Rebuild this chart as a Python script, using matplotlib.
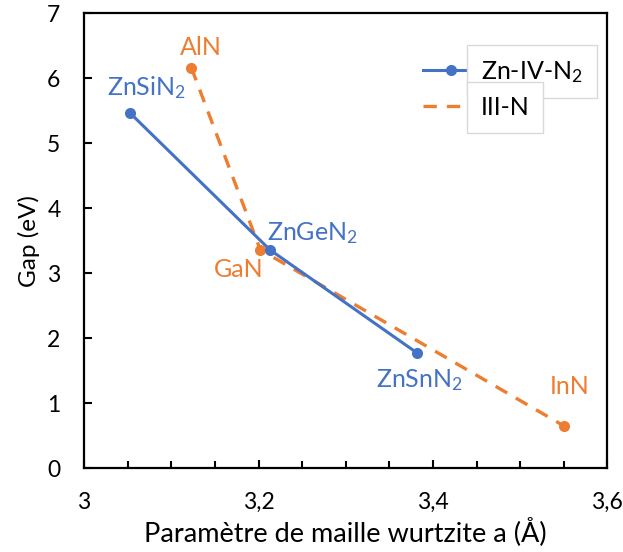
import matplotlib
matplotlib.use("Agg")
import matplotlib.pyplot as plt
from matplotlib.lines import Line2D
from matplotlib.ticker import MultipleLocator, FuncFormatter

plt.rcParams['font.family'] = ['Lato', 'DejaVu Sans']
plt.rcParams['mathtext.fontset'] = 'custom'
plt.rcParams['mathtext.rm'] = 'Lato'
plt.rcParams['mathtext.it'] = 'Lato:italic'

# Data
znivn_names = ["ZnSiN$_2$", "ZnGeN$_2$", "ZnSnN$_2$"]
znivn_a = [3.053, 3.213, 3.382]
znivn_gap = [5.46, 3.36, 1.77]

iiin_names = ["AlN", "GaN", "InN"]
iiin_a = [3.123, 3.202, 3.550]
iiin_gap = [6.16, 3.36, 0.65]

series_labels = ["Zn-IV-N$_2$", "III-N"]

blue = "#4472C4"
orange = "#ED7D31"

fig = plt.figure(figsize=(6.23, 5.52), dpi=100)
ax = fig.add_axes([0.135, 0.152, 0.84, 0.824])

ax.plot(iiin_a, iiin_gap, color=orange, lw=2.4, ls=(0, (4, 3)),
        marker='o', ms=8, markeredgewidth=0, zorder=3)
ax.plot(znivn_a, znivn_gap, color=blue, lw=2.2, ls='-',
        marker='o', ms=8, markeredgewidth=0, zorder=4)

# point labels
lab_fs = 18
ax.text(3.072, 5.86, znivn_names[0], color=blue, fontsize=lab_fs, ha='center', va='center')
ax.text(3.262, 3.62, znivn_names[1], color=blue, fontsize=lab_fs, ha='center', va='center')
ax.text(3.385, 1.35, znivn_names[2], color=blue, fontsize=lab_fs, ha='center', va='center')
ax.text(3.134, 6.48, iiin_names[0], color=orange, fontsize=lab_fs, ha='center', va='center')
ax.text(3.177, 3.05, iiin_names[1], color=orange, fontsize=lab_fs, ha='center', va='center')
ax.text(3.557, 1.25, iiin_names[2], color=orange, fontsize=lab_fs, ha='center', va='center')

ax.set_xlim(3.0, 3.6)
ax.set_ylim(0, 7)
ax.xaxis.set_major_locator(MultipleLocator(0.2))
ax.xaxis.set_minor_locator(MultipleLocator(0.05))
ax.yaxis.set_major_locator(MultipleLocator(1))

def fmt(v, pos):
    s = f"{v:.1f}".rstrip('0').rstrip('.')
    return s.replace('.', ',')
ax.xaxis.set_major_formatter(FuncFormatter(fmt))

ax.tick_params(axis='both', which='major', direction='in', length=6, width=1.5,
               labelsize=16.5, color='black')
ax.tick_params(axis='x', which='major', pad=17)
ax.tick_params(axis='y', which='major', pad=17)
ax.tick_params(axis='x', which='minor', direction='in', length=5, width=1.5)
for sp in ax.spines.values():
    sp.set_linewidth(1.6)
    sp.set_color('black')

ax.set_xlabel("Paramètre de maille wurtzite a (Å)", fontsize=19.5, labelpad=3)
ax.set_ylabel("Gap (eV)", fontsize=17.5, labelpad=5)

h1 = Line2D([], [], color=blue, lw=2.2, marker='o', ms=8, markeredgewidth=0)
h2 = Line2D([], [], color=orange, lw=2.4, ls=(0, (4, 3)))
leg = ax.legend(handles=[h1, h2], labels=series_labels, loc='upper left',
                bbox_to_anchor=(0.648, 0.90), borderpad=0, borderaxespad=0,
                frameon=False, fontsize=18, handlelength=2.2, handletextpad=0.1,
                labelspacing=0.45)
for t in leg.get_texts():
    t.set_bbox(dict(boxstyle='square,pad=0.55', fc='white', ec='#d9d9d9', lw=1))

fig.savefig("out.png", dpi=100)
